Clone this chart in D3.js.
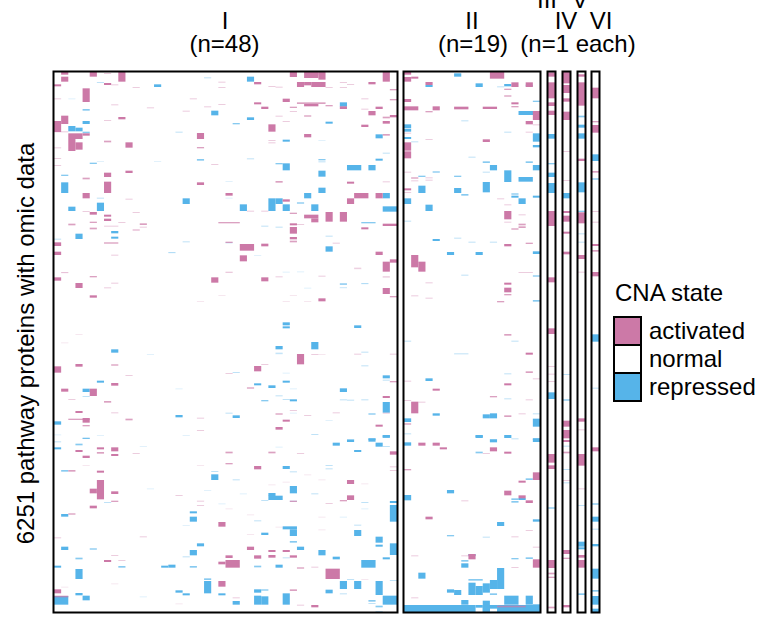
<!DOCTYPE html>
<html><head><meta charset="utf-8">
<script src="https://cdn.jsdelivr.net/npm/d3@7"></script>
<style>html,body{margin:0;background:#fff}svg{display:block}text{font-family:"Liberation Sans",Arial,sans-serif;fill:#000}</style>
</head><body><div id="c"></div><script>
const rowBins=1620;
const panels=[
 {key:"I",cols:48},{key:"II",cols:19},{key:"III",cols:1},{key:"IV",cols:1},{key:"V",cols:1},{key:"VI",cols:1}];
const legendStates=["activated","normal","repressed"];
// each mark: [first column, column span, first row bin, last row bin]
const activatedI=[[1,1,0,8],[1,1,14,29],[5,1,0,14],[7,1,3,5],[9,1,0,29],[0,1,37,43],[7,1,33,39],[8,1,37,39],[4,1,49,90],[11,1,45,47],[0,1,79,81],[8,1,97,100],[13,1,106,108],[19,1,79,81],[0,1,147,180],[1,1,131,156],[0,2,178,181],[2,2,184,201],[2,1,201,237],[3,1,211,233],[4,1,184,191],[7,1,206,211],[10,1,211,227],[9,1,135,142],[7,1,144,146],[20,1,183,201],[20,1,225,229],[21,1,103,106],[23,1,96,98],[18,1,116,119],[23,1,29,32],[23,1,45,48],[28,1,91,97],[29,1,104,111],[28,1,30,37],[31,1,44,47],[30,1,42,44],[30,1,157,179],[31,1,131,134],[32,1,147,150],[32,1,80,90],[33,1,0,15],[35,2,0,18],[36,1,0,10],[37,1,0,23],[34,1,30,45],[35,1,30,40],[36,2,30,45],[38,1,45,48],[40,1,30,33],[41,1,36,38],[40,1,45,47],[34,4,91,96],[35,2,96,103],[38,1,99,103],[33,1,104,108],[33,1,117,120],[35,1,130,134],[40,1,103,111],[44,1,30,37],[46,1,0,29],[47,1,51,55],[47,1,81,85],[43,1,79,81],[43,1,110,112],[44,1,117,130],[45,1,104,111],[43,1,158,165],[46,1,134,139],[46,1,147,155],[47,1,129,136],[46,1,186,191],[35,1,186,196],[30,1,204,207],[30,1,211,213],[0,1,226,228],[0,1,258,260],[0,1,279,281],[22,1,276,278],[7,1,302,315],[10,1,296,303],[4,1,317,322],[7,1,329,363],[20,1,331,339],[31,1,327,332],[41,1,329,335],[46,1,328,331],[4,1,363,379],[24,1,363,371],[10,1,380,382],[32,1,382,389],[42,2,363,379],[45,1,363,379],[41,1,379,396],[4,1,417,420],[5,1,420,428],[7,1,428,434],[7,1,440,447],[11,1,420,423],[5,1,449,453],[5,1,467,472],[2,1,455,460],[7,2,461,463],[9,1,450,452],[12,1,454,459],[12,1,464,467],[11,1,472,475],[23,3,450,454],[27,1,416,419],[29,1,416,419],[33,1,422,426],[35,2,428,439],[36,1,439,451],[38,1,420,449],[40,1,420,449],[33,1,454,460],[33,1,465,485],[33,1,495,502],[34,1,456,459],[33,1,506,511],[43,1,466,472],[46,2,455,462],[7,2,511,515],[24,1,509,513],[26,2,516,536],[29,1,515,523],[39,1,512,515],[45,1,539,549],[0,1,511,522],[0,1,539,549],[11,1,473,476],[8,1,548,551],[26,1,550,568],[46,1,569,599],[47,1,562,572],[0,1,616,626],[3,1,633,648],[22,1,616,632],[29,1,616,628],[5,1,670,677],[5,1,612,616],[37,1,611,614],[46,1,648,666],[47,1,672,676],[37,1,679,688],[42,1,587,589],[1,1,600,602],[24,1,599,601],[31,1,613,616],[46,1,613,615],[8,1,632,634],[7,1,646,649],[34,1,846,877],[0,1,883,902],[3,1,876,884],[8,1,877,881],[28,1,882,898],[8,1,933,941],[10,1,909,911],[1,1,950,959],[5,1,950,972],[27,1,946,950],[24,1,903,905],[47,1,927,931],[46,1,972,978],[47,1,845,848],[36,1,846,848],[29,1,876,878],[42,1,845,847],[2,1,981,983],[7,1,987,992],[3,1,1017,1023],[2,3,1040,1044],[4,1,1038,1052],[4,1,1059,1063],[10,1,1040,1045],[20,1,1074,1077],[20,1,1037,1039],[31,1,1024,1028],[32,1,1043,1049],[31,1,1065,1073],[35,1,1029,1031],[39,1,1021,1024],[45,1,1058,1064],[46,1,1022,1024],[33,1,1014,1016],[8,1,1021,1023],[6,1,1126,1132],[8,1,1126,1138],[6,1,1140,1145],[8,1,1146,1152],[3,1,1134,1140],[4,1,1151,1158],[11,1,1143,1146],[24,1,1139,1144],[24,1,1173,1177],[30,1,1139,1144],[34,1,1143,1146],[47,1,1138,1148],[2,1,1194,1199],[6,1,1196,1202],[28,1,1182,1192],[6,1,1224,1282],[5,1,1250,1264],[8,1,1258,1266],[8,1,1286,1290],[5,1,1301,1309],[2,1,1324,1328],[41,1,1224,1236],[41,1,1270,1284],[40,1,1284,1288],[38,1,1293,1296],[17,1,1269,1272],[33,1,1286,1290],[20,1,1286,1289],[20,1,1299,1302],[23,1,1350,1364],[12,1,1393,1395],[27,1,1424,1434],[8,1,1449,1452],[7,1,1464,1470],[9,1,1464,1467],[24,1,1450,1458],[23,1,1469,1477],[24,2,1464,1487],[28,1,1450,1460],[30,1,1434,1440],[30,1,1449,1457],[32,1,1434,1440],[33,1,1450,1457],[38,2,1490,1521],[36,1,1484,1486],[34,1,1486,1490],[23,1,1527,1544],[33,1,1552,1557],[0,1,1552,1564],[0,2,1571,1576],[36,1,1599,1606],[34,1,1598,1601],[25,1,1576,1578],[0,1,1396,1398],[47,1,1183,1185],[47,1,1194,1196],
 [1,1,601,602],[24,1,600,601],[33,1,669,670],[23,1,669,670],[32,1,687,688],[35,1,687,688],[20,1,687,688],[1,1,811,812],[3,1,786,787],[37,1,846,847],[42,1,589,590],[46,1,614,615],[1,1,1544,1545],[8,1,1534,1535],[17,1,1594,1595],[27,1,1327,1328],[27,1,1386,1387],[31,1,1364,1365],[37,1,1334,1335],[37,1,1372,1373],[24,1,1309,1310],[4,1,1179,1180],[20,1,1179,1180],[35,1,1207,1208],[43,1,1234,1235],[37,1,1222,1223],[32,1,1229,1230],[30,1,1237,1238],[43,1,1521,1522]];
const repressedI=[[27,1,14,29],[14,1,37,45],[21,1,16,19],[6,1,30,33],[4,1,111,116],[22,1,116,130],[4,1,147,156],[27,1,136,144],[25,1,153,157],[2,1,162,178],[3,1,167,178],[4,1,179,184],[40,1,91,104],[38,1,149,155],[17,1,179,182],[32,1,203,209],[45,1,187,199],[5,1,272,276],[20,1,261,266],[1,1,308,312],[31,1,273,277],[32,1,274,295],[37,1,261,265],[37,1,268,271],[37,1,296,314],[41,2,279,295],[44,1,279,295],[45,1,260,266],[46,1,242,245],[1,1,331,363],[37,1,347,363],[35,1,363,379],[18,1,379,396],[30,1,379,417],[31,1,379,396],[32,1,397,417],[26,1,397,417],[36,1,397,417],[34,1,391,395],[6,1,392,417],[2,1,404,417],[46,2,403,419],[46,1,363,379],[6,1,377,379],[3,1,485,501],[8,1,477,484],[8,1,494,500],[43,2,450,454],[38,1,523,539],[18,1,508,511],[24,1,511,514],[29,1,461,464],[31,1,464,467],[38,1,491,494],[0,1,500,503],[27,1,259,261],[32,1,751,760],[32,1,763,769],[42,1,760,768],[36,1,810,832],[31,1,822,832],[31,1,842,845],[43,1,839,842],[43,1,880,883],[8,1,832,842],[46,1,910,919],[46,1,923,925],[25,1,900,902],[6,1,926,932],[4,1,950,960],[4,1,972,975],[28,1,934,940],[30,1,940,948],[32,1,926,932],[40,1,949,960],[31,1,970,973],[29,1,984,988],[33,1,982,988],[32,1,981,983],[46,1,990,1022],[25,1,1030,1038],[17,1,1029,1036],[24,1,1022,1025],[0,1,1048,1058],[40,1,982,985],[41,1,983,985],[43,1,982,984],[44,1,1024,1028],[36,1,1086,1088],[41,1,1101,1104],[44,1,1099,1104],[46,1,1090,1097],[4,1,1097,1101],[40,1,634,638],[40,1,645,646],[43,1,633,635],[16,1,540,542],[0,1,1126,1132],[3,1,1115,1120],[4,1,1098,1101],[0,1,1108,1111],[39,1,1112,1121],[41,1,1103,1110],[44,1,1099,1109],[45,1,1112,1124],[46,1,1122,1124],[46,1,1089,1097],[42,1,1134,1140],[1,1,1194,1199],[22,1,1207,1224],[22,1,1197,1200],[25,1,1222,1225],[32,1,1182,1191],[33,1,1198,1201],[38,1,1179,1181],[38,1,1189,1192],[33,1,1242,1264],[30,1,1263,1272],[30,2,1271,1284],[29,1,1284,1287],[33,1,1286,1289],[36,1,1264,1266],[7,1,1290,1292],[43,1,1290,1292],[47,1,1287,1293],[47,1,1299,1349],[1,1,1326,1334],[19,1,1318,1324],[19,1,1334,1349],[28,1,1345,1348],[32,2,1363,1372],[33,1,1372,1392],[29,1,1382,1389],[42,1,1358,1361],[42,1,1374,1392],[45,1,1394,1412],[45,1,1418,1424],[47,1,1414,1449],[33,1,1407,1412],[1,1,1424,1434],[5,1,1429,1433],[20,1,1414,1423],[19,1,1434,1450],[34,1,1424,1434],[37,1,1434,1450],[3,1,1457,1462],[18,1,1453,1456],[32,1,1456,1459],[39,1,1454,1462],[46,1,1456,1462],[43,2,1464,1487],[0,1,1481,1487],[9,1,1482,1487],[16,1,1478,1487],[15,1,1481,1487],[19,1,1482,1487],[28,1,1481,1486],[31,1,1478,1487],[3,1,1491,1521],[21,1,1519,1524],[21,1,1527,1564],[40,1,1527,1551],[42,1,1527,1551],[41,1,1521,1524],[45,1,1527,1569],[38,1,1553,1564],[17,1,1555,1562],[18,1,1564,1570],[23,1,1564,1570],[3,1,1563,1570],[4,1,1571,1585],[0,2,1572,1598],[28,1,1552,1562],[28,1,1571,1598],[29,1,1573,1598],[29,1,1552,1556],[32,1,1564,1598],[46,2,1571,1598],[25,1,1587,1598],[44,1,1584,1589],[44,1,1593,1596],[45,1,1601,1606],[45,1,1617,1620],[47,1,1524,1527],[40,1,1564,1567],
 [2,1,79,80],[6,1,267,268],[14,1,267,268],[24,1,327,328],[24,1,377,378],[37,1,204,205],[16,1,541,542],[28,1,549,550],[32,1,599,600],[34,1,598,599],[40,1,636,637],[40,1,646,647],[43,1,634,635],[35,1,647,648],[13,1,846,847],[31,1,844,845],[32,1,902,903],[33,1,949,950],[17,1,949,950],[33,1,1022,1023],[38,1,1044,1045],[18,1,1089,1090],[6,1,1089,1090],[0,1,1087,1088],[12,1,1573,1574],[18,1,1359,1360],[23,1,1294,1295],[13,1,1249,1250],[21,1,1254,1255],[26,1,1264,1265],[40,1,1334,1335],[43,1,1309,1310],[12,1,1122,1123],[31,1,1124,1125]];
const activatedII=[[0,1,0,8],[0,1,15,29],[1,1,14,20],[3,1,30,39],[12,2,0,20],[14,1,50,54],[14,1,70,74],[15,1,31,45],[17,1,31,45],[0,1,81,90],[0,2,103,115],[4,1,103,115],[7,2,104,112],[11,2,104,111],[3,1,117,121],[15,1,91,97],[15,1,102,106],[18,1,117,144],[17,1,147,157],[18,1,157,159],[0,1,182,184],[17,1,179,181],[11,1,202,210],[3,1,201,204],[0,1,211,236],[0,1,238,259],[0,1,299,302],[1,1,316,320],[1,1,325,328],[3,1,316,319],[3,1,323,326],[0,1,349,355],[0,1,360,362],[14,1,397,400],[14,1,417,442],[14,1,449,451],[16,1,427,430],[15,1,469,473],[16,1,455,460],[16,1,463,468],[17,1,512,516],[14,1,516,523],[13,1,379,381],[1,1,549,586],[2,1,569,599],[14,1,632,638],[14,1,647,661],[14,1,666,670],[14,1,786,791],[17,1,842,848],[17,1,898,903],[14,1,934,940],[4,1,950,956],[12,1,972,976],[1,1,989,1024],[2,1,989,992],[0,1,984,986],[14,1,1030,1035],[0,1,1054,1058],[0,1,926,929],[16,2,600,602],[13,1,687,691],[3,1,677,680],[1,1,670,672],[3,1,631,633],[18,1,919,921],[17,1,982,985],[16,1,1024,1026],[2,1,1112,1121],[4,1,1112,1121],[5,1,1126,1132],[12,1,1126,1138],[14,1,1139,1145],[11,1,1143,1146],[0,1,1191,1195],[18,1,1201,1224],[16,1,1226,1232],[14,1,1256,1270],[16,1,1270,1279],[17,1,1285,1293],[8,1,1285,1288],[3,1,1334,1342],[17,1,1374,1377],[15,1,1393,1396],[18,1,1424,1426],[8,2,1450,1453],[9,1,1446,1462],[18,1,1462,1487],[15,1,1485,1488],[1,1,1576,1579],[1,1,1450,1452],[13,4,1601,1606]];
const repressedII=[[7,1,4,14],[10,1,34,45],[3,1,39,45],[14,1,36,43],[13,1,43,45],[17,1,38,43],[18,1,86,90],[8,1,145,147],[16,3,117,129],[18,1,184,209],[18,1,219,226],[0,1,157,169],[0,1,171,179],[0,1,195,201],[1,1,208,211],[14,1,179,182],[9,1,254,256],[11,1,268,273],[17,1,268,273],[12,1,279,295],[18,1,279,295],[4,1,298,302],[2,1,311,315],[7,1,311,315],[11,1,299,302],[14,1,295,330],[16,2,315,329],[2,1,341,363],[7,1,348,363],[8,1,366,371],[11,1,330,361],[15,1,364,368],[15,1,371,377],[16,1,379,396],[18,1,371,377],[0,1,379,396],[3,1,398,417],[0,1,446,449],[4,1,501,507],[7,1,497,500],[9,1,509,512],[12,1,509,512],[6,1,540,549],[10,1,540,549],[18,1,538,546],[8,1,608,611],[18,1,610,614],[18,1,684,689],[0,1,806,808],[15,1,806,808],[3,1,919,927],[14,1,904,906],[11,1,1027,1039],[12,1,1024,1039],[4,1,1024,1031],[0,1,1039,1050],[18,1,1040,1064],[10,1,1090,1098],[14,1,1089,1098],[15,1,1099,1102],[18,1,1099,1104],[12,1,1102,1104],[18,1,1024,1026],[14,1,979,982],[7,2,844,846],[0,1,1084,1086],[10,1,1089,1096],[18,1,1099,1110],[12,1,1102,1111],[0,1,1111,1121],[10,1,1139,1144],[17,1,1219,1224],[6,1,1254,1264],[15,1,1279,1284],[16,1,1278,1284],[15,1,1287,1292],[18,1,1342,1349],[13,1,1350,1362],[11,1,1394,1397],[6,1,1389,1393],[15,1,1458,1462],[17,1,1456,1461],[9,1,1446,1452],[8,1,1464,1469],[8,1,1474,1487],[2,1,1502,1520],[0,1,1269,1285],[13,1,1488,1551],[12,1,1524,1551],[11,1,1534,1562],[10,1,1542,1569],[9,1,1532,1569],[9,2,1521,1526],[6,1,1552,1562],[7,1,1554,1569],[8,1,1584,1598],[11,1,1586,1620],[12,1,1564,1569],[14,2,1571,1598],[17,1,1571,1598],[18,1,1597,1620],[0,10,1599,1620],[10,1,1599,1607],[11,1,1599,1620],[12,1,1599,1610],[13,6,1599,1620],[12,1,1618,1620]];
const activatedSingles={III:[[0,1,1,14],[0,1,31,79],[0,1,91,102],[0,1,116,129],[0,1,417,462],[0,1,616,631],[0,1,769,786],[0,1,882,884],[0,1,905,907],[0,1,927,930],[0,1,1146,1172],[0,1,1180,1191],[0,1,1464,1488],[0,1,1502,1507],[0,1,1514,1518],[0,1,1604,1609]],
 IV:[[0,1,0,34],[0,1,39,63],[0,1,79,89],[0,1,119,144],[0,1,237,240],[0,1,324,326],[0,1,417,423],[0,1,431,449],[0,1,479,485],[0,1,539,547],[0,1,1046,1064],[0,1,1074,1099],[0,1,1104,1110],[0,1,1139,1144],[0,1,1434,1446],[0,1,1457,1461],[0,1,1599,1606],[0,1,1224,1227]],
 V:[[0,1,7,14],[0,1,31,101],[0,1,260,267],[0,1,421,454],[0,1,549,561],[0,1,599,601],[0,1,1039,1049],[0,1,1072,1074],[0,1,1146,1181],[0,1,1249,1251],[0,1,1449,1457],[0,1,1464,1487]],
 VI:[[0,1,47,79],[0,1,147,151],[0,1,159,182],[0,1,297,302],[0,1,417,419],[0,1,449,451],[0,1,516,522],[0,1,534,539],[0,1,600,613],[0,1,1126,1138]]};
const repressedSingles={III:[[0,1,186,200],[0,1,273,277],[0,1,302,315],[0,1,333,363],[0,1,961,981],[0,1,1306,1310]],
 IV:[[0,1,363,379],[0,1,906,908],[0,1,982,986],[0,1,1121,1124],[0,1,1191,1194],[0,1,1231,1234]],
 V:[[0,1,131,136],[0,1,158,167],[0,1,184,200],[0,1,331,361],[0,1,416,420],[0,1,484,486],[0,1,509,511],[0,1,1299,1302],[0,1,1409,1424],[0,1,1426,1432],[0,1,1564,1569]],
 VI:[[0,1,247,267],[0,1,319,323],[0,1,787,809],[0,1,947,949],[0,1,1294,1298],[0,1,1334,1349],[0,1,1370,1372],[0,1,1416,1423],[0,1,1490,1520],[0,1,1554,1559],[0,1,1572,1598],[0,1,1610,1620]]};

const activatedColor="#CC79A7",repressedColor="#56B4E9";
const panelX={I:[54,397],II:[404,540],III:[548,555],IV:[563,570],V:[578,585],VI:[592,599]};
const panelTop=72,panelBottom=612;
const W=759,H=618;
const svg=d3.select("#c").append("svg").attr("width",W).attr("height",H);
const y=d3.scaleLinear().domain([0,rowBins]).range([panelTop,panelBottom]);
const thin=d3.scaleThreshold().domain([2,4,6]).range([0.18,0.38,0.7,1]);
const defs=svg.append("defs");
defs.append("filter").attr("id","soft").attr("x","-5%").attr("y","-5%").attr("width","110%").attr("height","110%")
 .append("feGaussianBlur").attr("stdDeviation",0.35);
const marks={I:[activatedI,repressedI],II:[activatedII,repressedII]};
for(const k of ["III","IV","V","VI"])marks[k]=[activatedSingles[k],repressedSingles[k]];
panels.forEach(p=>{
 const [x0,x1]=panelX[p.key];
 const x=d3.scaleLinear().domain([0,p.cols]).range([x0,x1]);
 const g=svg.append("g");
 const cells=g.append("g").attr("filter","url(#soft)");
 const draw=(arr,col)=>cells.append("g").selectAll("rect").data(arr).join("rect")
  .attr("x",d=>x(d[0])).attr("width",d=>x(d[0]+d[1])-x(d[0]))
  .attr("y",d=>y(d[2])).attr("height",d=>Math.max(y(d[3])-y(d[2]),1))
  .attr("fill",col).attr("fill-opacity",d=>thin(d[3]-d[2]));
 draw(marks[p.key][1],repressedColor);
 draw(marks[p.key][0],activatedColor);
 g.append("rect").attr("x",x0-0.5).attr("y",panelTop-0.5).attr("width",x1-x0+1).attr("height",panelBottom-panelTop+1)
  .attr("fill","none").attr("stroke","#000").attr("stroke-width",2);
});
// column headers
const headers=[["I",225,29],["(n=48)",224.5,52],["II",472,29],["(n=19)",473,52],["III",547,8],["V",580,8],["IV",566,29],["VI",601,29],["(n=1 each)",578,52]];
svg.append("g").selectAll("text").data(headers).join("text")
 .attr("x",d=>d[1]).attr("y",d=>d[2]).attr("text-anchor","middle").attr("font-size",24).text(d=>d[0]);
svg.append("text").attr("transform","translate(34,343.5) rotate(-90)").attr("text-anchor","middle")
 .attr("font-size",24).text("6251 pathway proteins with omic data");
// legend
const lg=svg.append("g");
lg.append("text").attr("x",615).attr("y",301).attr("font-size",24).text("CNA state");
const ls=d3.scaleBand().domain(legendStates).range([317,401]);
const lc=d3.scaleOrdinal().domain(legendStates).range([activatedColor,"#fff",repressedColor]);
lg.selectAll("rect").data(legendStates).join("rect")
 .attr("x",614).attr("width",27).attr("y",d=>ls(d)).attr("height",ls.bandwidth())
 .attr("fill",d=>lc(d)).attr("stroke","#000").attr("stroke-width",2);
lg.selectAll("text.l").data(legendStates).join("text").attr("class","l")
 .attr("x",649).attr("y",d=>ls(d)+ls.bandwidth()/2+8).attr("font-size",24).text(d=>d);
</script></body></html>
